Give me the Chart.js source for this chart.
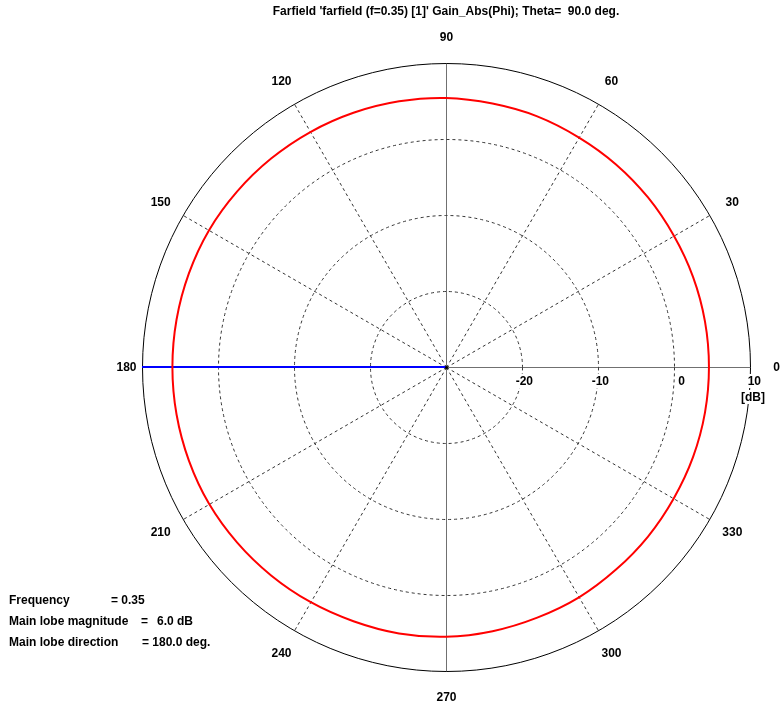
<!DOCTYPE html>
<html lang="en">
<head>
    <meta charset="UTF-8">
    <title>Farfield Gain_Abs(Phi) polar plot</title>
    <script src="https://cdn.jsdelivr.net/npm/chart.js@4.4.1/dist/chart.umd.min.js"></script>
    <style>
        body {
            margin: 0;
            background: #ffffff;
        }
        #wrap {
            position: relative;
            width: 784px;
            height: 711px;
        }
    </style>
</head>
<body>
    <div id="wrap">
        <canvas id="polarChart" width="784" height="711"></canvas>
    </div>

    <script>
        // Phi angles (deg, counter-clockwise from 0 at the right) and gain in dB
        const phi = [0, 10, 20, 30, 40, 50, 60, 70, 80, 90, 100, 110,
                     120, 130, 140, 150, 160, 170, 180, 190, 200, 210, 220, 230,
                     240, 250, 260, 270, 280, 290, 300, 310, 320, 330, 340, 350];
        const gainDb = [4.6, 4.6, 4.6, 4.6, 4.7, 4.8, 4.9, 5.1, 5.2, 5.4, 5.5, 5.6,
                        5.7, 5.8, 5.9, 6.0, 6.0, 6.0, 6.0, 6.0, 6.0, 6.0, 5.9, 5.8,
                        5.7, 5.6, 5.6, 5.5, 5.3, 5.1, 5.0, 4.8, 4.7, 4.6, 4.6, 4.6];

        const angleTicks = [0, 30, 60, 90, 120, 150, 180, 210, 240, 270, 300, 330];
        const dbTicks = [-20, -10, 0, 10];
        const dbMin = -30;
        const dbMax = 10;

        const titleText = "Farfield 'farfield (f=0.35) [1]' Gain_Abs(Phi); Theta=  90.0 deg.";
        const frequency = 0.35;
        const mainLobeMag = 6.0;
        const mainLobeDir = 180;

        // Chart.js radar runs clockwise, the plot runs counter-clockwise:
        // keep 0 first, then walk the angles backwards
        const order = phi.map((p, i) => (phi.length - i) % phi.length);
        const labels = order.map(i => phi[i]);
        const gainData = order.map(i => gainDb[i]);
        const lobeData = labels.map(p => p === mainLobeDir ? dbMax : dbMin);

        const FONT = 'bold 12px "Liberation Sans", Arial, sans-serif';

        const polarGrid = {
            id: 'polarGrid',
            beforeDatasetsDraw(chart) {
                const ctx = chart.ctx;
                const s = chart.scales.r;
                const cx = s.xCenter, cy = s.yCenter;
                ctx.save();

                // dashed spokes every 30 deg, solid grey axes
                angleTicks.forEach(a => {
                    const p = s.getPointPosition(labels.indexOf(a), s.drawingArea);
                    ctx.beginPath();
                    ctx.moveTo(cx + 0.5, cy + 0.5);
                    ctx.lineTo(p.x + 0.5, p.y + 0.5);
                    if (a % 90 === 0) {
                        ctx.setLineDash([]);
                        ctx.strokeStyle = '#707070';
                    } else {
                        ctx.setLineDash([3, 3]);
                        ctx.strokeStyle = '#333333';
                    }
                    ctx.lineWidth = 1;
                    ctx.stroke();
                });

                // rings
                dbTicks.forEach(v => {
                    const r = s.getDistanceFromCenterForValue(v);
                    ctx.beginPath();
                    ctx.arc(cx + 0.5, cy + 0.5, r, 0, Math.PI * 2);
                    if (v === dbMax) {
                        ctx.setLineDash([]);
                        ctx.strokeStyle = '#000000';
                    } else {
                        ctx.setLineDash([3, 3]);
                        ctx.strokeStyle = '#333333';
                    }
                    ctx.lineWidth = 1;
                    ctx.stroke();
                });
                ctx.restore();
            },
            afterDraw(chart) {
                const ctx = chart.ctx;
                const s = chart.scales.r;
                const cx = s.xCenter, cy = s.yCenter;
                ctx.save();
                ctx.font = FONT;
                ctx.fillStyle = '#000000';

                // centre dot
                ctx.beginPath();
                ctx.arc(cx + 0.5, cy + 0.5, 1.5, 0, Math.PI * 2);
                ctx.fill();

                // title
                ctx.textAlign = 'center';
                ctx.textBaseline = 'middle';
                ctx.fillText(titleText, 446, 12);

                // angle labels
                angleTicks.forEach(a => {
                    const off = a === 180 ? 16 : 26;
                    const p = s.getPointPosition(labels.indexOf(a), s.drawingArea + off);
                    ctx.fillText(String(a), p.x + 0.5, p.y + 0.5);
                });

                // dB labels under the 0 deg axis
                ctx.textAlign = 'right';
                dbTicks.forEach(v => {
                    const x = cx + s.getDistanceFromCenterForValue(v) + 11;
                    const txt = String(v);
                    const w = ctx.measureText(txt).width;
                    ctx.fillStyle = '#ffffff';
                    ctx.fillRect(x - w - 1, cy + 7, w + 2, 14);
                    ctx.fillStyle = '#000000';
                    ctx.fillText(txt, x, cy + 15);
                });
                const xUnit = cx + s.getDistanceFromCenterForValue(dbMax) + 15;
                const wu = ctx.measureText('[dB]').width;
                ctx.fillStyle = '#ffffff';
                ctx.fillRect(xUnit - wu - 1, cy + 23, wu + 2, 14);
                ctx.fillStyle = '#000000';
                ctx.fillText('[dB]', xUnit, cy + 31);

                // info block
                ctx.textAlign = 'left';
                ctx.fillText('Frequency', 9, 601);
                ctx.fillText('= ' + frequency.toFixed(2), 111, 601);
                ctx.fillText('Main lobe magnitude', 9, 622);
                ctx.fillText('=', 141, 622);
                ctx.fillText(mainLobeMag.toFixed(1) + ' dB', 157, 622);
                ctx.fillText('Main lobe direction', 9, 643);
                ctx.fillText('= ' + mainLobeDir.toFixed(1) + ' deg.', 142, 643);
                ctx.restore();
            }
        };

        new Chart(document.getElementById('polarChart'), {
            type: 'radar',
            data: {
                labels: labels,
                datasets: [{
                    label: 'Gain_Abs',
                    data: gainData,
                    borderColor: '#ff0000',
                    borderWidth: 2,
                    fill: false,
                    tension: 0.35,
                    pointRadius: 0
                }, {
                    label: 'Main lobe',
                    data: lobeData,
                    borderColor: '#0000ff',
                    borderWidth: 2,
                    fill: false,
                    tension: 0,
                    pointRadius: 0
                }]
            },
            options: {
                responsive: false,
                animation: false,
                devicePixelRatio: 1,
                layout: {
                    padding: { left: 142, right: 33, top: 62, bottom: 39 }
                },
                plugins: {
                    legend: { display: false },
                    tooltip: { enabled: false }
                },
                scales: {
                    r: {
                        min: dbMin,
                        max: dbMax,
                        startAngle: 90,
                        ticks: { display: false, stepSize: 10 },
                        grid: { display: false },
                        angleLines: { display: false },
                        pointLabels: { display: false }
                    }
                }
            },
            plugins: [polarGrid]
        });
    </script>
</body>
</html>
